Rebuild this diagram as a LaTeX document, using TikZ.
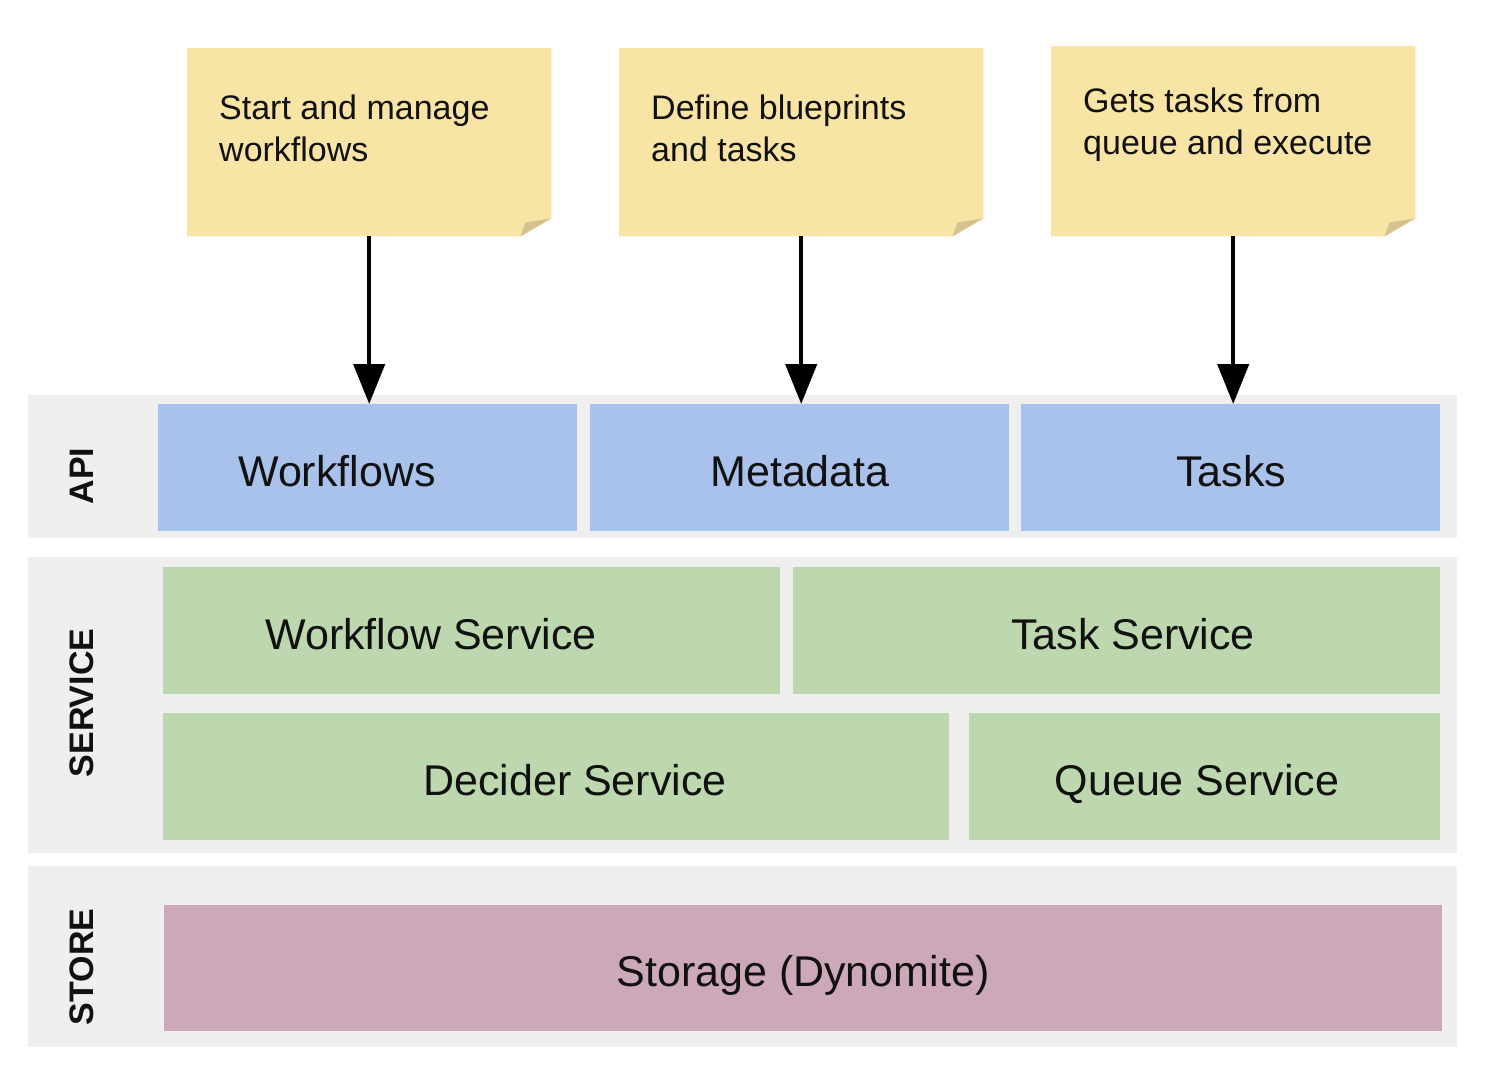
\documentclass[tikz,border=0pt]{standalone}
\usepackage{fontspec}
\setmainfont{Liberation Sans}
\usetikzlibrary{arrows.meta,calc}
\pgfdeclarelayer{background}
\pgfsetlayers{background,main}
\definecolor{bandgray}{HTML}{EFEFEF}
\definecolor{apiblue}{HTML}{A9C2EB}
\definecolor{svcgreen}{HTML}{BDD7AE}
\definecolor{storepink}{HTML}{CCA8B9}
\definecolor{noteyellow}{HTML}{F8E4A5}
\definecolor{notefold}{HTML}{D6C38C}
\definecolor{ink}{HTML}{111111}
\tikzset{
  band/.style={fill=bandgray, draw=none, anchor=north west, inner sep=0pt},
  box/.style={draw=none, anchor=north west, inner sep=0pt, minimum height=127pt},
  apibox/.style={box, fill=apiblue, minimum width=419pt},
  boxtext/.style={anchor=base, inner sep=0pt, text=ink, font=\fontsize{43}{50}\selectfont},
  sidetext/.style={rotate=90, inner sep=0pt, text=ink, font=\fontsize{34}{40}\selectfont\bfseries},
  notebox/.style={draw=none, anchor=north west, inner sep=0pt, minimum width=364pt},
  notetext/.style={anchor=north west, inner sep=0pt, align=left, text=ink, font=\fontsize{34}{42}\selectfont},
  arr/.style={line width=4.5pt, draw=black, -{Triangle[width=31pt,length=40pt]}}
}
\newcommand{\stickynote}[1]{%
  \begin{pgfonlayer}{background}
  \fill[noteyellow] (#1.north west) -- (#1.north east) -- ([yshift=18pt]#1.south east)
     -- ([xshift=-31pt]#1.south east) -- (#1.south west) -- cycle;
  \fill[notefold] ([xshift=-31pt]#1.south east) -- ([xshift=-26pt,yshift=14pt]#1.south east)
     -- ([yshift=18pt]#1.south east) -- cycle;
  \end{pgfonlayer}}
\begin{document}
\begin{tikzpicture}[x=1pt,y=-1pt]
\useasboundingbox (0,0) rectangle (1486,1072);
% bands
\node[band, minimum width=1429pt, minimum height=143pt] (bapi) at (28,395) {};
\node[band, minimum width=1429pt, minimum height=296pt] (bsvc) at (28,557) {};
\node[band, minimum width=1429pt, minimum height=181pt] (bsto) at (28,866) {};
\node[sidetext] (lapi) at (82,476) {API};
\node[sidetext] (lsvc) at (82,703) {SERVICE};
\node[sidetext] (lsto) at (82,967) {STORE};
% API
\node[apibox] (wf) at (158,404) {};
\node[apibox] (md) at (590,404) {};
\node[apibox] (tk) at (1021,404) {};
\node[boxtext] (twf) at (337,486) {Workflows};
\node[boxtext] (tmd) at (800,486) {Metadata};
\node[boxtext] (ttk) at (1231,486) {Tasks};
% Service
\node[box, fill=svcgreen, minimum width=617pt] (ws) at (163,567) {};
\node[box, fill=svcgreen, minimum width=647pt] (ts) at (793,567) {};
\node[box, fill=svcgreen, minimum width=786pt] (ds) at (163,713) {};
\node[box, fill=svcgreen, minimum width=471pt] (qs) at (969,713) {};
\node[boxtext] (tws) at (431,649) {Workflow Service};
\node[boxtext] (tts) at (1133,649) {Task Service};
\node[boxtext] (tds) at (575,795) {Decider Service};
\node[boxtext] (tqs) at (1197,795) {Queue Service};
% Store
\node[box, fill=storepink, minimum width=1278pt, minimum height=126pt] (st) at (164,905) {};
\node[boxtext] (tst) at (803,986) {Storage (Dynomite)};
% notes
\node[notebox, minimum height=188pt] (n1) at (187,48) {};
\node[notebox, minimum height=188pt] (n2) at (619,48) {};
\node[notebox, minimum height=190pt] (n3) at (1051,46) {};
\stickynote{n1}\stickynote{n2}\stickynote{n3}
\node[notetext] (t1) at (219,95) {Start and manage\\workflows};
\node[notetext] (t2) at (651,95) {Define blueprints\\and tasks};
\node[notetext] (t3) at (1083,88) {Gets tasks from\\queue and execute};
% arrows
\draw[arr] (n1.south) -- (n1.south |- wf.north);
\draw[arr] (n2.south) -- (n2.south |- md.north);
\draw[arr] (n3.south) -- (n3.south |- tk.north);
\end{tikzpicture}
\end{document}
